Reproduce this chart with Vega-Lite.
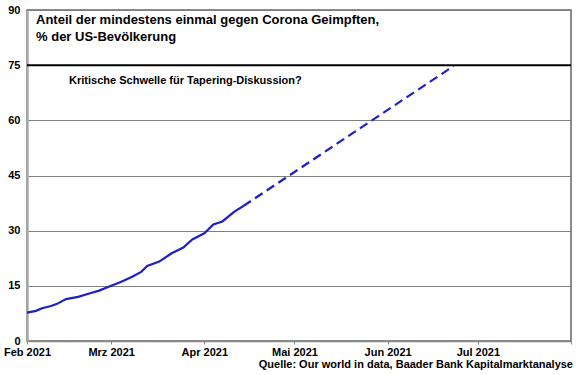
{
  "$schema": "https://vega.github.io/schema/vega-lite/v6.json",
  "width": 544,
  "height": 331,
  "autosize": {"type": "none"},
  "padding": {"left": 27, "top": 10, "right": 9, "bottom": 34},
  "background": "white",
  "config": {
    "font": "Liberation Sans",
    "view": {"stroke": "#666666", "strokeWidth": 1.5}
  },
  "title": {
    "text": "Quelle: Our world in data, Baader Bank Kapitalmarktanalyse",
    "orient": "bottom",
    "anchor": "end",
    "frame": "group",
    "font": "Liberation Sans",
    "fontSize": 11,
    "fontWeight": "bold",
    "color": "black",
    "offset": 2,
    "dx": 2
  },
  "datasets": {
    "actual": [
      {"date": "2021-02-01", "value": 7.7},
      {"date": "2021-02-04", "value": 8.2},
      {"date": "2021-02-06", "value": 8.9},
      {"date": "2021-02-09", "value": 9.5},
      {"date": "2021-02-11", "value": 10.1},
      {"date": "2021-02-14", "value": 11.4},
      {"date": "2021-02-18", "value": 12.0},
      {"date": "2021-02-22", "value": 13.0},
      {"date": "2021-02-25", "value": 13.7},
      {"date": "2021-03-01", "value": 15.0},
      {"date": "2021-03-04", "value": 16.0},
      {"date": "2021-03-08", "value": 17.5},
      {"date": "2021-03-11", "value": 18.8},
      {"date": "2021-03-13", "value": 20.4},
      {"date": "2021-03-17", "value": 21.6},
      {"date": "2021-03-21", "value": 23.8},
      {"date": "2021-03-25", "value": 25.4},
      {"date": "2021-03-28", "value": 27.6},
      {"date": "2021-04-01", "value": 29.3},
      {"date": "2021-04-04", "value": 31.7},
      {"date": "2021-04-07", "value": 32.5},
      {"date": "2021-04-11", "value": 35.2},
      {"date": "2021-04-14", "value": 36.7}
    ],
    "projection": [
      {"date": "2021-04-14", "value": 36.7},
      {"date": "2021-06-23", "value": 74.8}
    ],
    "threshold": [{"value": 75}],
    "titleText": [
      {"date": "2021-02-04", "value": 87.3, "label": "Anteil der mindestens einmal gegen Corona Geimpften,"},
      {"date": "2021-02-04", "value": 82.6, "label": "% der US-Bevölkerung"}
    ],
    "note": [
      {"date": "2021-02-15", "value": 70.7, "label": "Kritische Schwelle für Tapering-Diskussion?"}
    ]
  },
  "layer": [
    {
      "data": {"name": "actual"},
      "mark": {"type": "line", "color": "#1f1fc8", "strokeWidth": 2.2},
      "encoding": {
        "x": {
          "field": "date",
          "type": "temporal",
          "scale": {"type": "utc", "domain": [{"year": 2021, "month": 2, "date": 1, "utc": true}, {"year": 2021, "month": 8, "date": 1, "utc": true}]},
          "axis": {
            "title": null,
            "values": [
              {"year": 2021, "month": 2, "date": 1, "utc": true},
              {"year": 2021, "month": 3, "date": 1, "utc": true},
              {"year": 2021, "month": 4, "date": 1, "utc": true},
              {"year": 2021, "month": 5, "date": 1, "utc": true},
              {"year": 2021, "month": 6, "date": 1, "utc": true},
              {"year": 2021, "month": 7, "date": 1, "utc": true},
              {"year": 2021, "month": 8, "date": 1, "utc": true}
            ],
            "labelExpr": "utcmonth(datum.value) == 7 ? '' : ['Jan','Feb','Mrz','Apr','Mai','Jun','Jul','Aug'][utcmonth(datum.value)] + ' 2021'",
            "grid": false,
            "domainColor": "#888888",
            "domainWidth": 1.5,
            "tickColor": "#888888",
            "tickSize": 3,
            "tickOffset": 0,
            "labelPadding": 2,
            "labelFont": "Liberation Sans",
            "labelFontSize": 11,
            "labelFontWeight": "bold",
            "labelColor": "black",
            "labelFlush": false,
            "labelOverlap": false,
            "labelBound": false
          }
        },
        "y": {
          "field": "value",
          "type": "quantitative",
          "scale": {"domain": [0, 90], "nice": false},
          "axis": {
            "title": null,
            "values": [0, 15, 30, 45, 60, 75, 90],
            "grid": true,
            "gridColor": "#808080",
            "gridWidth": 1.2,
            "domainColor": "#aaaaaa",
            "domainWidth": 2.5,
            "ticks": false,
            "labelPadding": 7,
            "labelFont": "Liberation Sans",
            "labelFontSize": 11,
            "labelFontWeight": "bold",
            "labelColor": "black"
          }
        }
      }
    },
    {
      "data": {"name": "projection"},
      "mark": {"type": "line", "color": "#1f1fc8", "strokeWidth": 2.2, "strokeDash": [9, 5]},
      "encoding": {
        "x": {"field": "date", "type": "temporal"},
        "y": {"field": "value", "type": "quantitative"}
      }
    },
    {
      "data": {"name": "threshold"},
      "mark": {"type": "rule", "color": "black", "strokeWidth": 2},
      "encoding": {
        "y": {"field": "value", "type": "quantitative"}
      }
    },
    {
      "data": {"name": "titleText"},
      "mark": {"type": "text", "align": "left", "baseline": "middle", "font": "Liberation Sans", "fontSize": 13, "fontWeight": "bold", "color": "black"},
      "encoding": {
        "x": {"field": "date", "type": "temporal"},
        "y": {"field": "value", "type": "quantitative"},
        "text": {"field": "label"}
      }
    },
    {
      "data": {"name": "note"},
      "mark": {"type": "text", "align": "left", "baseline": "middle", "font": "Liberation Sans", "fontSize": 11, "fontWeight": "bold", "color": "black"},
      "encoding": {
        "x": {"field": "date", "type": "temporal"},
        "y": {"field": "value", "type": "quantitative"},
        "text": {"field": "label"}
      }
    }
  ]
}
